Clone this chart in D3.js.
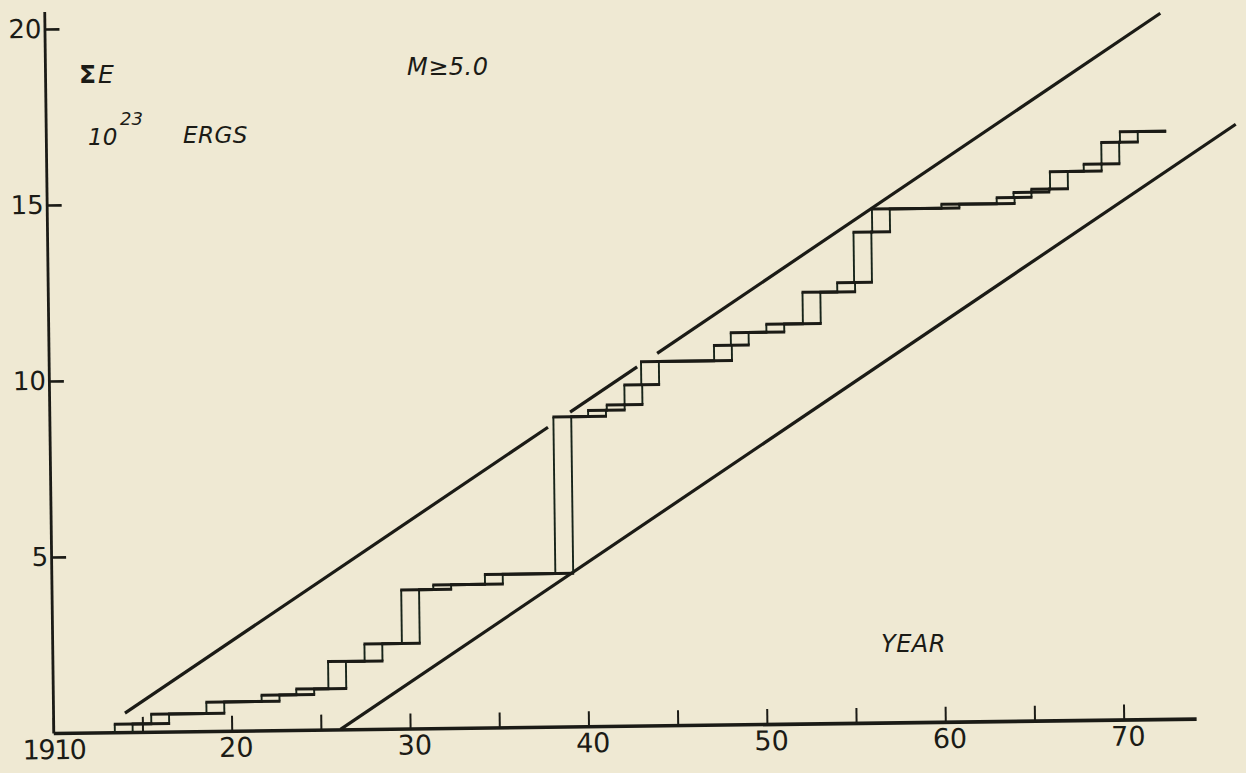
<!DOCTYPE html>
<html>
<head>
<meta charset="utf-8">
<script src="https://cdn.jsdelivr.net/npm/d3@7"></script>
<style>
  html, body { margin: 0; padding: 0; background: #efe9d3; }
  svg { display: block; }
</style>
</head>
<body>
<svg id="chart" width="1246" height="773"></svg>
<script>
// Cumulative seismic energy release, M >= 5.0 (units of 10^23 ergs)
// Each step is drawn as a box one year wide.
const eventYears = [1913.45, 1915.5, 1918.6, 1921.7, 1923.65, 1925.45, 1927.5, 1929.6,
  1931.4, 1934.3, 1938.25, 1940.2, 1941.25, 1942.25, 1943.2, 1947.3, 1948.25, 1950.25,
  1952.3, 1954.25, 1955.2, 1956.25, 1960.15, 1963.25, 1964.2, 1965.2, 1966.25, 1968.15,
  1969.15, 1970.2];
const cumulativeEnergy = [0.23, 0.5, 0.82, 1.0, 1.16, 1.93, 2.42, 3.94,
  4.07, 4.35, 8.8, 8.97, 9.12, 9.68, 10.34, 10.77, 11.13, 11.36,
  12.25, 12.51, 13.94, 14.59, 14.7, 14.87, 15.01, 15.1, 15.59, 15.79,
  16.4, 16.7];
const boxWidthYears = 1.0;
const seriesEndYear = 1972.74;

// Envelope lines [year, energy] endpoints
const upperEnvelope = [
  [[1914.03, 0.54], [1937.94, 8.51]],
  [[1939.19, 8.93], [1942.98, 10.19]],
  [[1944.11, 10.57], [1972.55, 20.05]]
];
const lowerEnvelope = [
  [[1926.1, 0.0], [1976.7, 16.87]]
];

const xTickValues = [1910, 1915, 1920, 1925, 1930, 1935, 1940, 1945, 1950, 1955, 1960, 1965, 1970];
const yTickValues = [5, 10, 15, 20];

const ink = "#1b1b16";
const labelFont = "'DejaVu Sans', 'Liberation Sans', sans-serif";

const svg = d3.select("#chart");
svg.append("rect").attr("width", 1246).attr("height", 773).attr("fill", "#efe9d3");

const plot = svg.append("g").attr("transform", "translate(53.3,733) rotate(-0.72)");

const x = d3.scaleLinear().domain([1910, 1974.06]).range([0, 1142.9]);
const y = d3.scaleLinear().domain([0, 20.5]).range([0, -721.6]);

// Axes
const xAxis = d3.axisBottom(x)
  .tickValues(xTickValues)
  .tickSizeInner(-15)
  .tickSizeOuter(0)
  .tickPadding(7)
  .tickFormat(d => d === 1910 ? "1910" : (d % 10 === 0 ? String(d - 1900) : ""));
const gx = plot.append("g").call(xAxis)
  .attr("font-family", labelFont).attr("font-size", 27);
gx.select(".domain").attr("stroke", ink).attr("stroke-width", 3.6);
gx.selectAll(".tick line").attr("stroke", ink).attr("stroke-width", 2);
gx.selectAll(".tick text").attr("fill", ink)
  .attr("letter-spacing", d => d === 1910 ? -1.5 : 0)
  .attr("dx", d => d === 1910 ? 0 : 4);

const yAxis = d3.axisLeft(y)
  .tickValues(yTickValues)
  .tickSizeInner(-15)
  .tickSizeOuter(0)
  .tickPadding(3);
const gy = plot.append("g").call(yAxis)
  .attr("font-family", labelFont).attr("font-size", 26);
gy.select(".domain").attr("stroke", ink).attr("stroke-width", 2.8);
gy.selectAll(".tick line").attr("stroke", ink).attr("stroke-width", 2.6);
gy.selectAll(".tick text").attr("fill", ink);

// Envelope lines
const envLine = d3.line().x(d => x(d[0])).y(d => y(d[1]));
plot.selectAll("path.envelope")
  .data(upperEnvelope.concat(lowerEnvelope))
  .join("path")
  .attr("class", "envelope")
  .attr("d", envLine)
  .attr("fill", "none")
  .attr("stroke", ink)
  .attr("stroke-width", 3.2)
  .attr("stroke-linecap", "butt");

// Step boxes
const steps = eventYears.map((t, i) => ({
  t,
  e: cumulativeEnergy[i],
  prev: i ? cumulativeEnergy[i - 1] : 0,
  next: i < eventYears.length - 1 ? eventYears[i + 1] : seriesEndYear
}));

const rises = steps.flatMap(s => [
  { t: s.t, e0: s.prev, e1: s.e },
  { t: s.t + boxWidthYears, e0: s.prev, e1: s.e }
]);
plot.selectAll("line.rise")
  .data(rises)
  .join("line")
  .attr("class", "rise")
  .attr("x1", d => x(d.t)).attr("x2", d => x(d.t))
  .attr("y1", d => y(d.e0)).attr("y2", d => y(d.e1))
  .attr("stroke", "#17241a")
  .attr("stroke-width", 1.9);

const runs = steps.flatMap(s => [
  { t0: s.t, t1: s.next, e: s.e },
  { t0: s.t + boxWidthYears, t1: Math.min(s.next + boxWidthYears, seriesEndYear), e: s.e }
]);
plot.selectAll("line.run")
  .data(runs)
  .join("line")
  .attr("class", "run")
  .attr("x1", d => x(d.t0) - 1).attr("x2", d => x(d.t1) + 1)
  .attr("y1", d => y(d.e)).attr("y2", d => y(d.e))
  .attr("stroke", ink)
  .attr("stroke-width", 3);

// Annotations
const annot = svg.append("g").attr("fill", ink).attr("font-family", labelFont);

const sumLabel = annot.append("text").attr("x", 79).attr("y", 83).attr("font-size", 25);
sumLabel.append("tspan").attr("font-weight", "bold").text("Σ");
sumLabel.append("tspan").attr("font-style", "italic").attr("dx", 2).text("E");

annot.append("text").attr("x", 88).attr("y", 145).attr("font-size", 23)
  .attr("font-style", "italic").text("10");
annot.append("text").attr("x", 120).attr("y", 125).attr("font-size", 18)
  .attr("font-style", "italic").text("23");
annot.append("text").attr("x", 183).attr("y", 143).attr("font-size", 23)
  .attr("font-style", "italic").attr("letter-spacing", 0.5).text("ERGS");

annot.append("text").attr("x", 407).attr("y", 75).attr("font-size", 24)
  .attr("font-style", "italic").attr("letter-spacing", 0.5).text("M≥5.0");

annot.append("text").attr("x", 881).attr("y", 652).attr("font-size", 24)
  .attr("font-style", "italic").attr("letter-spacing", 0.5).text("YEAR");
</script>
</body>
</html>
